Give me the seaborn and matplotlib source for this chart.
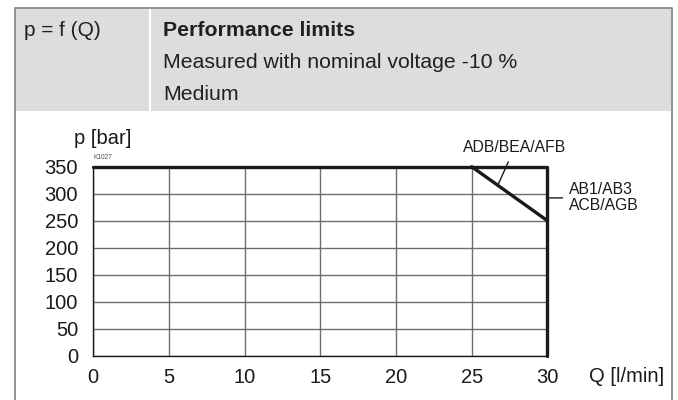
import matplotlib
matplotlib.use("Agg")
import numpy as np
import pandas as pd
import matplotlib.pyplot as plt
import seaborn as sns
from matplotlib.patches import Rectangle
from matplotlib.lines import Line2D

# performance limit curves, p [bar] over Q [l/min]
q_outer = [0, 30, 30]
p_outer = [350, 350, 0]
q_diag = [25, 30]
p_diag = [350, 250]

x_ticks = [0, 5, 10, 15, 20, 25, 30]
y_ticks = [0, 50, 100, 150, 200, 250, 300, 350]

label_outer = "AB1/AB3\nACB/AGB"
label_diag = "ADB/BEA/AFB"

W, H = 678, 400


def fx(px):
    return px / W


def fy(py):
    return 1 - py / H


sns.set_style("white")
plt.rcParams["font.family"] = ["Liberation Sans", "DejaVu Sans"]

fig = plt.figure(figsize=(W / 100, H / 100), dpi=100)

# header band and outer frame
fig.add_artist(Rectangle((fx(15), fy(111)), fx(656), 103 / H, transform=fig.transFigure,
                         facecolor="#dcdddf", edgecolor="none", zorder=0))
fig.add_artist(Line2D([fx(150), fx(150)], [fy(8), fy(111)], transform=fig.transFigure,
                      color="white", lw=1.6))
frame = "#8a8a8a"
fig.add_artist(Line2D([fx(14.5), fx(14.5), fx(671.5), fx(671.5)], [0, fy(7.5), fy(7.5), 0],
                      transform=fig.transFigure, color=frame, lw=1.3))

head_font = ["Liberation Sans", "DejaVu Sans"]
hc = "#231f20"
fig.text(fx(24), fy(36.5), "p = f (Q)", family=head_font, fontsize=15, color=hc, va="baseline")
fig.text(fx(163), fy(36.5), "Performance limits", family=head_font, fontsize=15.3, color=hc,
         weight="bold", va="baseline")
fig.text(fx(163), fy(67.5), "Measured with nominal voltage -10 %", family=head_font, fontsize=15.3,
         color=hc, va="baseline")
fig.text(fx(163), fy(100.5), "Medium", family=head_font, fontsize=15.3, color=hc, va="baseline")

# plot area
x0, x1, ytop, ybot = 93.3, 547.4, 166.7, 355.7
ax = fig.add_axes([fx(x0), fy(ybot), fx(x1 - x0), (ybot - ytop) / H])
ax.set_xlim(0, 30)
ax.set_ylim(0, 350)
ax.set_xticks(x_ticks)
ax.set_yticks(y_ticks)
ax.grid(True, color="#6e6e6e", lw=1.0)
ax.tick_params(length=0, labelsize=14.5, colors="#1a1a1a")
ax.tick_params(axis="x", pad=9)
ax.tick_params(axis="y", pad=11)
for s in ["top", "right"]:
    ax.spines[s].set_visible(False)
for s in ["left", "bottom"]:
    ax.spines[s].set_color("#1a1a1a")
    ax.spines[s].set_linewidth(1.0)

df_outer = pd.DataFrame({"Q": q_outer, "p": p_outer})
df_diag = pd.DataFrame({"Q": q_diag, "p": p_diag})
sns.lineplot(data=df_outer, x="Q", y="p", sort=False, estimator=None, color="#1a1a1a", lw=2.4,
             ax=ax, clip_on=False, zorder=5)
sns.lineplot(data=df_diag, x="Q", y="p", sort=False, estimator=None, color="#1a1a1a", lw=2.4,
             ax=ax, clip_on=False, zorder=5)
ax.set_xlabel("")
ax.set_ylabel("")

ax.annotate(label_diag, xy=(26.73, 316), xytext=(27.85, 386), fontsize=11.3, color="#1a1a1a",
            ha="center", va="center", annotation_clip=False,
            arrowprops=dict(arrowstyle="-", color="#1a1a1a", lw=1.0, shrinkA=3, shrinkB=0))
ax.annotate(label_outer, xy=(30, 292), xytext=(31.4, 293), fontsize=11.3, color="#1a1a1a",
            ha="left", va="center", linespacing=1.05, annotation_clip=False,
            arrowprops=dict(arrowstyle="-", color="#1a1a1a", lw=1.0, shrinkA=2, shrinkB=0))

fig.text(fx(103), fy(138), "p [bar]", fontsize=14.5, color="#1a1a1a", ha="center", va="center")
fig.text(fx(627), fy(377), "Q [l/min]", fontsize=14.5, color="#1a1a1a", ha="center", va="center")
fig.text(fx(93), fy(157), "K1027", fontsize=4.8, color="#555555", ha="left", va="center")

fig.savefig("out.png", dpi=100)
